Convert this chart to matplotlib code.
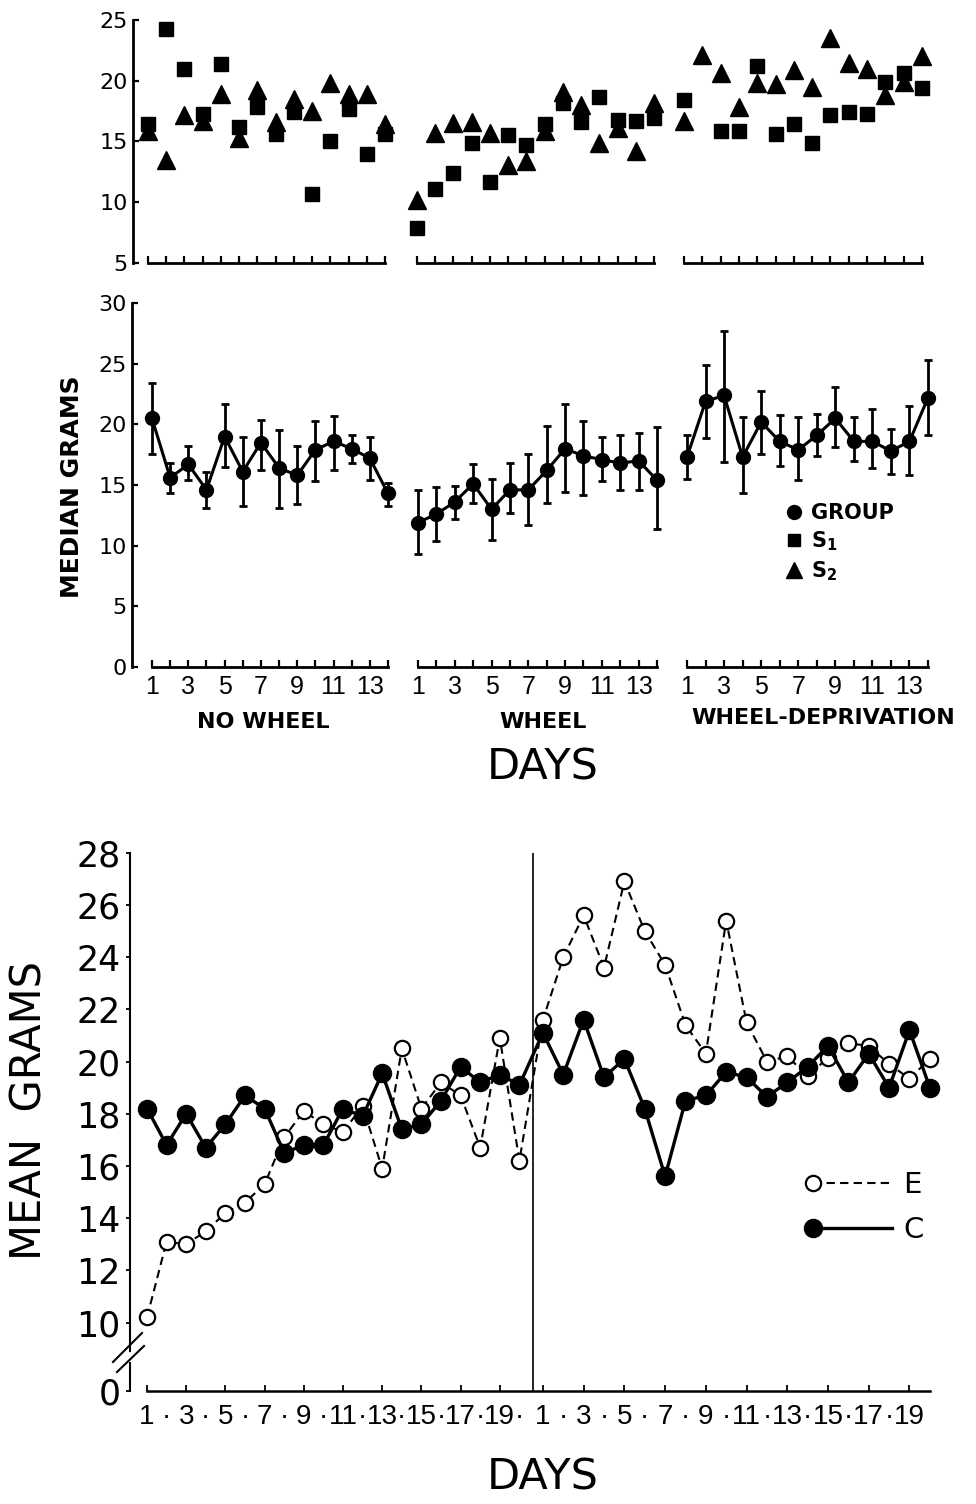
import numpy as np
import matplotlib.pyplot as plt
from matplotlib.lines import Line2D
from matplotlib.legend_handler import HandlerLine2D

W, H = 976, 1504
plt.rcParams['font.family'] = 'DejaVu Sans'
NARROW = 'Liberation Sans'

# ---- upper figure: days 1-14 of each condition
days = np.arange(1, 15)
section_names = ['NO WHEEL', 'WHEEL', 'WHEEL-DEPRIVATION']

# individual subjects (top panel)
s1_no_wheel = [16.4, 24.3, 21.0, 17.3, 21.4, 16.2, 17.8, 15.6, 17.4, 10.7, 15.0, 17.7, 14.0, 15.6]
s2_no_wheel = [15.9, 13.5, 17.2, 16.7, 18.9, 15.3, 19.2, 16.6, 18.5, 17.5, 19.8, 18.9, 18.9, 16.4]
s1_wheel = [7.9, 11.1, 12.4, 14.9, 11.7, 15.5, 14.7, 16.4, 18.2, 16.6, 18.7, 16.8, 16.7, 16.9]
s2_wheel = [10.2, 15.7, 16.5, 16.6, 15.7, 13.1, 13.4, 15.9, 19.1, 18.0, 14.9, 16.1, 14.2, 18.2]
s1_deprivation = [18.4, np.nan, 15.9, 15.9, 21.2, 15.6, 16.4, 14.9, 17.2, 17.4, 17.3, 19.9, 20.6, 19.4]
s2_deprivation = [16.7, 22.1, 20.6, 17.8, 19.8, 19.7, 20.9, 19.5, 23.5, 21.5, 21.0, 18.8, 19.9, 22.0]

# group medians with range (middle panel)
group_no_wheel = [20.5, 15.6, 16.7, 14.6, 19.0, 16.1, 18.5, 16.4, 15.8, 17.9, 18.6, 18.0, 17.2, 14.3]
low_no_wheel = [17.6, 14.3, 15.4, 13.1, 16.5, 13.3, 16.2, 13.1, 13.4, 15.3, 16.2, 16.8, 15.4, 13.3]
high_no_wheel = [23.4, 16.8, 18.2, 16.1, 21.7, 19.0, 20.4, 19.5, 18.2, 20.3, 20.7, 19.1, 19.0, 15.2]
group_wheel = [11.9, 12.6, 13.6, 15.1, 13.0, 14.6, 14.6, 16.2, 18.0, 17.4, 17.1, 16.8, 17.0, 15.4]
low_wheel = [9.3, 10.4, 12.2, 13.5, 10.5, 12.7, 11.7, 13.5, 14.4, 14.2, 15.3, 14.6, 14.6, 11.4]
high_wheel = [14.6, 14.8, 14.9, 16.7, 15.5, 16.8, 17.6, 19.9, 21.7, 20.3, 19.0, 19.1, 19.3, 19.8]
group_deprivation = [17.3, 21.9, 22.4, 17.3, 20.2, 18.6, 17.9, 19.1, 20.5, 18.6, 18.6, 17.8, 18.6, 22.2]
low_deprivation = [15.5, 18.9, 16.9, 14.3, 17.6, 16.6, 15.4, 17.4, 18.1, 17.0, 16.4, 15.9, 15.8, 19.1]
high_deprivation = [19.1, 24.9, 27.7, 20.6, 22.8, 20.8, 20.6, 20.9, 23.1, 20.6, 21.3, 19.6, 21.5, 25.3]

s1 = [s1_no_wheel, s1_wheel, s1_deprivation]
s2 = [s2_no_wheel, s2_wheel, s2_deprivation]
group = [group_no_wheel, group_wheel, group_deprivation]
group_low = [low_no_wheel, low_wheel, low_deprivation]
group_high = [high_no_wheel, high_wheel, high_deprivation]

# ---- lower figure: two blocks of 20 days, E and C groups
block_days = list(range(1, 21)) * 2
e_means = [10.2, 13.1, 13.0, 13.5, 14.2, 14.6, 15.3, 17.1, 18.1, 17.6,
           17.3, 18.3, 15.9, 20.5, 18.2, 19.2, 18.7, 16.7, 20.9, 16.2,
           21.6, 24.0, 25.6, 23.6, 26.9, 25.0, 23.7, 21.4, 20.3, 25.4,
           21.5, 20.0, 20.2, 19.45, 20.15, 20.7, 20.6, 19.9, 19.35, 20.1]
c_means = [18.2, 16.8, 18.0, 16.7, 17.6, 18.7, 18.2, 16.5, 16.8, 16.8,
           18.2, 17.9, 19.55, 17.4, 17.6, 18.5, 19.8, 19.2, 19.5, 19.1,
           21.1, 19.5, 21.6, 19.4, 20.1, 18.2, 15.6, 18.5, 18.7, 19.6,
           19.4, 18.65, 19.2, 19.8, 20.6, 19.2, 20.3, 19.0, 21.2, 19.0]
mean_ticks = [10, 12, 14, 16, 18, 20, 22, 24, 26, 28]

fig = plt.figure(figsize=(W / 100, H / 100), dpi=100)


def px_axes(x0, y0, x1, y1):
    return fig.add_axes([x0 / W, 1 - y1 / H, (x1 - x0) / W, (y1 - y0) / H])


def fig_text(x, y, s, **kw):
    fig.text(x / W, 1 - y / H, s, ha='center', va='center', **kw)


def fig_line(xs, ys, **kw):
    fig.add_artist(Line2D([x / W for x in xs], [1 - y / H for y in ys],
                          transform=fig.transFigure, color='black', **kw))


class LeftMarker(HandlerLine2D):
    # legend key with the marker only at the left end of the line
    def create_artists(self, *args, **kwargs):
        artists = super().create_artists(*args, **kwargs)
        artists[0].set_markevery([0])
        return artists


def section_axes(p1, p14, ytop, ybot, left=None):
    step = (p14 - p1) / 13
    left = p1 - 0.9 * step if left is None else left
    right = p14 + 0.9 * step
    ax = px_axes(left, ytop, right, ybot)
    ax.set_xlim(1 - (p1 - left) / step, 14 + (right - p14) / step)
    ax.patch.set_visible(False)
    for side in ['top', 'right']:
        ax.spines[side].set_visible(False)
    ax.spines['bottom'].set_bounds(1, 14)
    ax.spines['bottom'].set_linewidth(2)
    ax.set_xticks(days)
    ax.tick_params(axis='x', direction='in', length=5, width=1.6, pad=6)
    return ax


def left_axis(ax, lo, hi, ticks):
    ax.spines['left'].set_bounds(lo, hi)
    ax.spines['left'].set_linewidth(2)
    ax.set_yticks(ticks)
    ax.tick_params(axis='y', direction='in', length=4, width=1.6, labelsize=16, pad=4)


# top panel
top_pos = [(148, 385), (417, 654), (684, 922)]
for i, (p1, p14) in enumerate(top_pos):
    ax = section_axes(p1, p14, 20, 263, left=133 if i == 0 else None)
    ax.set_ylim(5, 25)
    ax.plot(days, s2[i], '^', color='black', ms=13, clip_on=False)
    ax.plot(days, s1[i], 's', color='black', ms=9.5, clip_on=False)
    ax.tick_params(axis='x', labelbottom=False)
    if i == 0:
        left_axis(ax, 5, 25, [5, 10, 15, 20, 25])
    else:
        ax.spines['left'].set_visible(False)
        ax.set_yticks([])

# middle panel
mid_pos = [(152, 388), (418, 657), (687, 928)]
for i, (p1, p14) in enumerate(mid_pos):
    ax = section_axes(p1, p14, 303.3, 666.7, left=132 if i == 0 else None)
    ax.set_ylim(0, 30)
    g = np.array(group[i])
    err = [g - np.array(group_low[i]), np.array(group_high[i]) - g]
    ax.errorbar(days, g, yerr=err, fmt='o-', color='black', ms=10, lw=2.2,
                elinewidth=2, capsize=3, capthick=2, clip_on=False)
    ax.set_xticklabels([str(d) if d % 2 else '' for d in days],
                       fontsize=18, family=NARROW)
    if i == 0:
        left_axis(ax, 0, 30, [0, 5, 10, 15, 20, 25, 30])
    else:
        ax.spines['left'].set_visible(False)
        ax.set_yticks([])

fig_text(263, 722, section_names[0], fontsize=16, fontweight='bold')
fig_text(543, 722, section_names[1], fontsize=16, fontweight='bold')
fig_text(823, 718, section_names[2], fontsize=16, fontweight='bold')
fig_text(543, 767, 'DAYS', fontsize=31)
fig_text(72, 487, 'MEDIAN GRAMS', rotation=90, fontsize=18, fontweight='bold')

key = [Line2D([], [], marker='o', ls='none', color='black', ms=10),
       Line2D([], [], marker='s', ls='none', color='black', ms=8),
       Line2D([], [], marker='^', ls='none', color='black', ms=12)]
fig.legend(key, ['GROUP', r'$\mathregular{S_1}$', r'$\mathregular{S_2}$'],
           loc='upper left', bbox_to_anchor=(786 / W, 1 - 503 / H),
           frameon=False, handlelength=0.8, handletextpad=0.4,
           labelspacing=0.3, borderpad=0, borderaxespad=0,
           prop={'size': 15, 'weight': 'bold'})

# bottom panel, broken y axis; second block is drawn a little wider
Y_ZERO = 7.38
STEP_PX = 19.6
x = np.concatenate([np.arange(20), 20.2 + 1.039 * np.arange(20)])
ax3 = px_axes(130, 852.7, 940, 1391)
ax3.set_xlim(-17 / STEP_PX, (940 - 147) / STEP_PX)
ax3.set_ylim(Y_ZERO, 28)
ax3.patch.set_visible(False)
for side in ['top', 'right']:
    ax3.spines[side].set_visible(False)

ax3.axvline(19.69, color='black', lw=1.2)
ax3.plot(x, e_means, color='black', ls=(0, (4, 2.5)), lw=1.5, marker='o', ms=11,
         mfc='white', mec='black', mew=1.6, clip_on=False)
ax3.plot(x, c_means, color='black', lw=2.4, marker='o', ms=13, clip_on=False)

ax3.set_xticks(x[::2])
ax3.set_xticklabels([str(d) for d in block_days[::2]])
ax3.set_xticks(x[1::2], minor=True)
ax3.set_xticklabels(['·'] * (len(x[1::2]) - 1) + [''], minor=True)
for lab in ax3.get_xticklabels(which='both'):
    lab.set_fontfamily(NARROW)
    lab.set_fontsize(20)
ax3.tick_params(axis='x', which='major', direction='in', length=4, width=1.3, pad=9)
ax3.tick_params(axis='x', which='minor', length=0, pad=9)
ax3.spines['bottom'].set_bounds(0, x[-1])
ax3.spines['bottom'].set_linewidth(1.8)

ax3.set_yticks(mean_ticks + [Y_ZERO])
ax3.set_yticklabels([str(t) for t in mean_ticks] + ['0'])
ax3.tick_params(axis='y', direction='out', length=3, width=1.3, labelsize=25, pad=4)
ax3.spines['left'].set_bounds(8.9, 28)
ax3.spines['left'].set_linewidth(1.5)
ax3.plot([0, 0], [Y_ZERO, 8.45], color='black', lw=1.5,
         transform=ax3.get_yaxis_transform(), clip_on=False)
fig_line([113, 142], [1362, 1333], lw=1.5)
fig_line([117, 144], [1372, 1346], lw=1.5)

fig_text(543, 1478, 'DAYS', fontsize=31)
fig_text(30, 1110, 'MEAN  GRAMS', rotation=90, fontsize=30)

e_key = Line2D([], [], color='black', ls=(0, (4, 2.5)), lw=1.5, marker='o', ms=11,
               mfc='white', mec='black', mew=1.6)
c_key = Line2D([], [], color='black', lw=2.4, marker='o', ms=13)
fig.legend([e_key, c_key], ['E', 'C'], loc='upper left', numpoints=2,
           handler_map={Line2D: LeftMarker(numpoints=2)},
           bbox_to_anchor=(804 / W, 1 - 1171 / H), frameon=False, fontsize=21,
           handlelength=3.3, handletextpad=0.1, labelspacing=0.6,
           borderpad=0, borderaxespad=0)

fig.savefig('out.png', dpi=100)
